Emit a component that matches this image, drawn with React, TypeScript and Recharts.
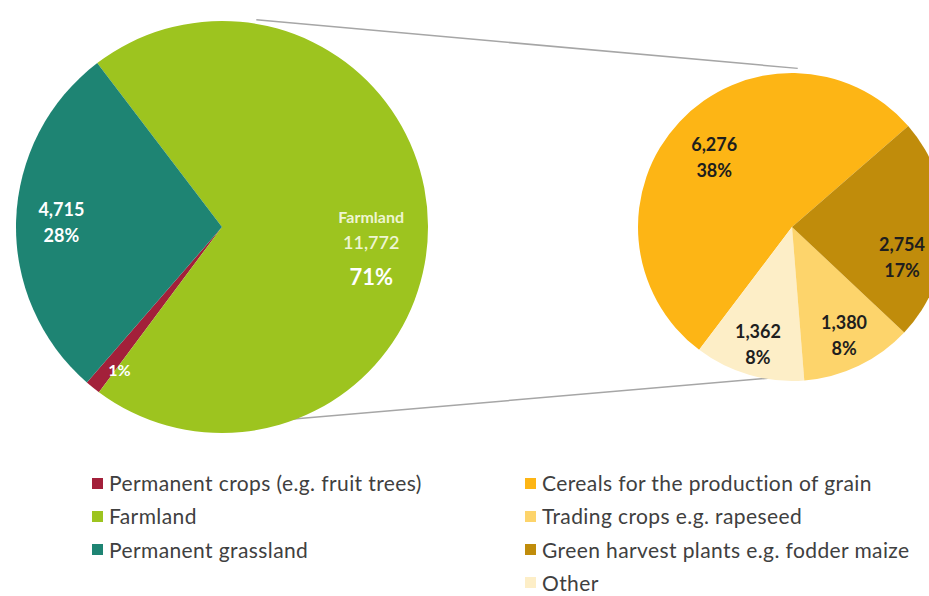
import React from 'react';
import { PieChart, Pie, Cell } from 'recharts';

// Utilised agricultural area, in 1,000 ha
const bigNames = ['Permanent crops (e.g. fruit trees)', 'Farmland', 'Permanent grassland'];
const bigValues = [200, 11772, 4715];
const bigColors = ['#A3203A', '#9DC41F', '#1E8473'];

// Breakdown of farmland
const smallNames = [
  'Cereals for the production of grain',
  'Trading crops e.g. rapeseed',
  'Green harvest plants e.g. fodder maize',
  'Other',
];
const smallValues = [6276, 1380, 2754, 1362];
const smallColors = ['#FDB515', '#FDD46B', '#C08C0B', '#FDEEC7'];
// order the slices go round the small pie (counter-clockwise)
const smallPieOrder = [0, 3, 1, 2];

const RAD = Math.PI / 180;
const total = bigValues.reduce((a, b) => a + b, 0);
const fmt = (v: number) => v.toLocaleString('en-US');
const pct = (v: number) => `${Math.round((v / total) * 100)}%`;

const bigData = bigNames.map((name, i) => ({ name, value: bigValues[i], color: bigColors[i] }));
const smallData = smallPieOrder.map((i) => ({ name: smallNames[i], value: smallValues[i], color: smallColors[i] }));

const BIG = { cx: 217, cy: 222, r: 206, start: 229 };
const SMALL = { cx: 787, cy: 222, r: 154, start: 41 };

// label radius (share of outer radius) and angle tweak for each slice
const labelPos: Record<string, { r: number; da: number }> = {
  [bigNames[0]]: { r: 0.85, da: 3 },
  [bigNames[1]]: { r: 0.73, da: -7.5 },
  [bigNames[2]]: { r: 0.78, da: 0 },
  [smallNames[0]]: { r: 0.68, da: 1 },
  [smallNames[1]]: { r: 0.78, da: 0 },
  [smallNames[2]]: { r: 0.74, da: -14 },
  [smallNames[3]]: { r: 0.79, da: 0 },
};

type Line = { text: string; size: number; weight: number; color: string; dy: number };

const linesFor = (name: string, value: number, big: boolean): Line[] => {
  if (name === 'Farmland') {
    return [
      { text: 'Farmland', size: 16, weight: 700, color: '#EEF5D2', dy: -30 },
      { text: fmt(value), size: 18, weight: 600, color: '#EEF5D2', dy: 26 },
      { text: pct(value), size: 22, weight: 700, color: '#FFFFFF', dy: 34 },
    ];
  }
  const color = big ? '#FFFFFF' : '#1E1E1E';
  if (name === bigNames[0]) return [{ text: pct(value), size: 16, weight: 700, color, dy: 0 }];
  return [
    { text: fmt(value), size: 18, weight: 700, color, dy: -13 },
    { text: pct(value), size: 18, weight: 700, color, dy: 26 },
  ];
};

const makeLabel = (big: boolean) => (props: any) => {
  const { cx, cy, midAngle, outerRadius, value } = props;
  const name = props.payload?.name ?? props.name;
  const cfg = labelPos[name] || { r: 0.7, da: 0 };
  const a = (midAngle + cfg.da) * RAD;
  const rr = outerRadius * cfg.r;
  const x = cx + rr * Math.cos(a);
  const y = cy - rr * Math.sin(a);
  const lines = linesFor(name, value, big);
  return (
    <text x={x} y={y} textAnchor="middle" dominantBaseline="central" fontFamily="Lato, 'Open Sans', sans-serif">
      {lines.map((l, i) => (
        <tspan key={i} x={x} dy={l.dy} fontSize={l.size} fontWeight={l.weight} fill={l.color}>
          {l.text}
        </tspan>
      ))}
    </text>
  );
};

const edge = (p: { cx: number; cy: number; r: number }, deg: number) => ({
  x: p.cx + p.r * Math.cos(deg * RAD),
  y: p.cy - p.r * Math.sin(deg * RAD),
});

const legendLeft = bigData.map((d) => ({ name: d.name, color: d.color }));
const legendRight = smallNames.map((name, i) => ({ name, color: smallColors[i] }));

const LegendCol = ({ items, left }: { items: { name: string; color: string }[]; left: number }) => (
  <div
    style={{
      position: 'absolute',
      left,
      top: 473,
      fontFamily: 'Lato, sans-serif',
      fontSize: 21,
      letterSpacing: 0.4,
      color: '#404040',
      whiteSpace: 'nowrap',
    }}
  >
    {items.map((it) => (
      <div key={it.name} style={{ height: 20, lineHeight: '20px', marginBottom: 13.3, display: 'flex', alignItems: 'center' }}>
        <span style={{ width: 11, height: 11, background: it.color, display: 'inline-block', marginRight: 6 }} />
        {it.name}
      </div>
    ))}
  </div>
);

export default function App() {
  const t1 = edge(BIG, 79);
  const t2 = edge(SMALL, 86);
  const b1 = edge(BIG, -75);
  const b2 = edge(SMALL, -85);
  return (
    <div style={{ position: 'absolute', left: 0, top: 0, width: 929, height: 596, background: '#fff', overflow: 'hidden' }}>
      <svg width={929} height={440} style={{ position: 'absolute', left: 0, top: 0 }}>
        <line x1={t1.x} y1={t1.y} x2={t2.x} y2={t2.y} stroke="#A6A6A6" strokeWidth={1.5} />
        <line x1={b1.x} y1={b1.y} x2={b2.x} y2={b2.y} stroke="#A6A6A6" strokeWidth={1.5} />
      </svg>
      <div style={{ position: 'absolute', left: 0, top: 0 }}>
        <PieChart width={929} height={440}>
          <Pie
            data={bigData}
            dataKey="value"
            nameKey="name"
            cx={BIG.cx}
            cy={BIG.cy}
            outerRadius={BIG.r}
            startAngle={BIG.start}
            endAngle={BIG.start + 360}
            stroke="none"
            label={makeLabel(true)}
            labelLine={false}
            isAnimationActive={false}
          >
            {bigData.map((d) => (
              <Cell key={d.name} fill={d.color} />
            ))}
          </Pie>
          <Pie
            data={smallData}
            dataKey="value"
            nameKey="name"
            cx={SMALL.cx}
            cy={SMALL.cy}
            outerRadius={SMALL.r}
            startAngle={SMALL.start}
            endAngle={SMALL.start + 360}
            stroke="none"
            label={makeLabel(false)}
            labelLine={false}
            isAnimationActive={false}
          >
            {smallData.map((d) => (
              <Cell key={d.name} fill={d.color} />
            ))}
          </Pie>
        </PieChart>
      </div>
      <LegendCol items={legendLeft} left={92} />
      <LegendCol items={legendRight} left={525} />
    </div>
  );
}
